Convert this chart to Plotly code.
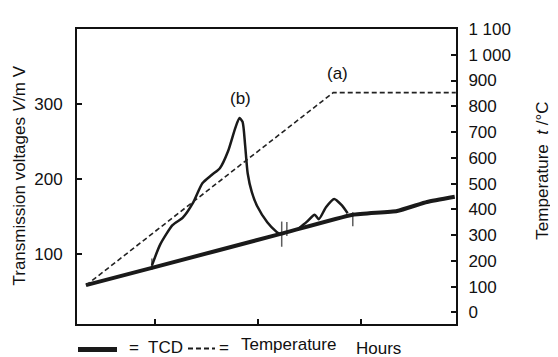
import plotly.graph_objects as go

# ---- data (x in "hours" tick units) ----
tcd_x = [0.33, 0.97, 2.21, 2.92, 3.35, 3.64, 3.91]
tcd_y = [58, 81, 126, 152, 157, 169, 176]

peak_b_x = [0.97, 1.05, 1.17, 1.27, 1.37, 1.46, 1.55, 1.63, 1.71, 1.78, 1.82, 1.85, 1.875, 1.90, 1.94, 1.99, 2.09, 2.18, 2.21]
peak_b_y = [84, 112, 138, 148, 168, 194, 205, 214, 237, 268, 281, 276, 245, 207, 182, 164, 142, 129, 126]

peak_c_x = [2.39, 2.47, 2.55, 2.59, 2.66, 2.74, 2.81, 2.87]
peak_c_y = [133, 142, 152, 146, 162, 173, 165, 154]

temp_x = [0.33, 2.73, 3.92]
temp_y = [105, 853, 853]

cut_x = [0.97, 2.23, 2.28, 2.92]
cut_y = [86, 126, 133, 146]
cut_len = [8, 18, 10, 10]

x_ticks = [1, 2, 3]
left_ticks = [100, 200, 300]
right_ticks = [0, 100, 200, 300, 400, 500, 600, 700, 800, 900, 1000, 1100]
right_labels = ["0", "100", "200", "300", "400", "500", "600", "700", "800", "900", "1 000", "1 100"]

FONT = "Arial, Liberation Sans, sans-serif"
FS = 17

fig = go.Figure()

fig.add_trace(go.Scatter(x=temp_x, y=temp_y, yaxis="y2", mode="lines",
                         line=dict(color="#222", width=1.6, dash="5px,3px"),
                         showlegend=False, hoverinfo="skip"))
fig.add_trace(go.Scatter(x=peak_b_x, y=peak_b_y, mode="lines",
                         line=dict(color="#1a1a1a", width=2.5, shape="spline", smoothing=0.6),
                         showlegend=False))
fig.add_trace(go.Scatter(x=peak_c_x, y=peak_c_y, mode="lines",
                         line=dict(color="#1a1a1a", width=2.5, shape="spline", smoothing=0.6),
                         showlegend=False))
fig.add_trace(go.Scatter(x=tcd_x, y=tcd_y, mode="lines",
                         line=dict(color="#1a1a1a", width=4, shape="spline", smoothing=0.4),
                         showlegend=False))
fig.add_trace(go.Scatter(x=cut_x, y=cut_y, mode="markers",
                         marker=dict(symbol="line-ns", size=cut_len, color="#1a1a1a",
                                     line=dict(color="#1a1a1a", width=1.5)),
                         showlegend=False))

# page has an 8px body margin: figure sits at (8, 8) in the 558x357 window
fig.update_layout(
    width=550, height=349,
    margin=dict(l=69, r=102, t=14, b=33),
    paper_bgcolor="white", plot_bgcolor="white",
    font=dict(family=FONT, size=FS, color="#111"),
    xaxis=dict(range=[0.243, 3.922], tickvals=x_ticks, showticklabels=False,
               ticks="inside", ticklen=5, tickwidth=1.5, tickcolor="#111",
               showline=True, linecolor="#111", linewidth=2, mirror=True,
               showgrid=False, zeroline=False),
    yaxis=dict(range=[6, 400], tickvals=left_ticks,
               ticks="inside", ticklen=5, tickwidth=1.5, tickcolor="#111",
               showline=True, linecolor="#111", linewidth=2,
               showgrid=False, zeroline=False, ticklabelstandoff=9),
    yaxis2=dict(range=[-45, 1100], tickvals=right_ticks, ticktext=right_labels,
                overlaying="y", side="right",
                ticks="inside", ticklen=5, tickwidth=1.5, tickcolor="#111",
                showline=True, linecolor="#111", linewidth=2,
                showgrid=False, zeroline=False, ticklabelstandoff=7),
)

# helpers: reference page pixels -> paper coords (plot area 77..456 x 22..324)
def px(xp):
    return (xp - 77) / 379

def py(yp):
    return (324 - yp) / 302

ann = [
    dict(text="(a)", x=px(337), y=py(68)),
    dict(text="(b)", x=px(240), y=py(93)),
    dict(text="Transmission voltages <i>V</i>/m V", x=px(20), y=py(172), textangle=-90),
    dict(text="Temperature  <i>t</i> /°C", x=px(543), y=py(167), textangle=-90),
    dict(text="=  TCD", x=px(127), y=py(348), xanchor="left"),
    dict(text="=", x=px(217), y=py(348), xanchor="left"),
    dict(text="Temperature", x=px(239), y=py(345), xanchor="left"),
    dict(text="Hours", x=px(354), y=py(349), xanchor="left"),
]
for a in ann:
    a.setdefault("xanchor", "center")
    fig.add_annotation(xref="paper", yref="paper", showarrow=False,
                       yanchor="middle", font=dict(family=FONT, size=FS, color="#111"), **a)

fig.add_shape(type="line", xref="paper", yref="paper",
              x0=px(78), x1=px(117), y0=py(350), y1=py(350),
              line=dict(color="#1a1a1a", width=5))
fig.add_shape(type="line", xref="paper", yref="paper",
              x0=px(188), x1=px(215), y0=py(349), y1=py(349),
              line=dict(color="#1a1a1a", width=2, dash="5px,3px"))

fig.write_html("out.html")
